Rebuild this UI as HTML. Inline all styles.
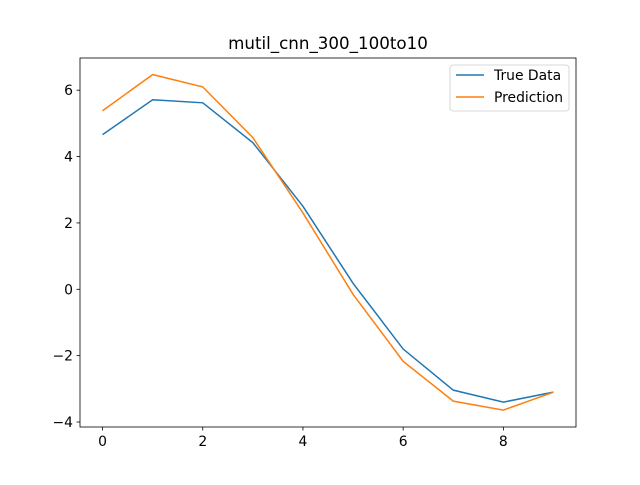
<!DOCTYPE html>
<html><head><meta charset="utf-8">
<style>
body{margin:0;background:#fff;}
svg text{font-family:"DejaVu Sans","Liberation Sans",sans-serif;}
</style></head>
<body>
<svg id="chart" width="640" height="480" xmlns="http://www.w3.org/2000/svg">
<rect width="640" height="480" fill="#fff"/>
<text x="328" y="49" font-size="16.7" text-anchor="middle">mutil_cnn_300_100to10</text>
<g id="ticks"></g>
<g id="lines"></g>
<rect x="80" y="58" width="496" height="369" fill="none" stroke="#000" stroke-width="0.8"/>
<g>
<rect x="450" y="65" width="119" height="46" rx="3" fill="#fff" stroke="#ccc" stroke-width="0.8"/>
<line x1="456" y1="75" x2="484" y2="75" stroke="#1f77b4" stroke-width="1.5"/>
<text x="494" y="80" font-size="13.9">True Data</text>
<line x1="456" y1="97" x2="484" y2="97" stroke="#ff7f0e" stroke-width="1.5"/>
<text x="494" y="102" font-size="13.9">Prediction</text>
</g>
</svg>
<script>
const xValues=[0,1,2,3,4,5,6,7,8,9];
const trueData=[4.66,5.71,5.62,4.42,2.5,0.18,-1.8,-3.04,-3.4,-3.1];
const prediction=[5.38,6.47,6.1,4.57,2.3,-0.15,-2.17,-3.37,-3.64,-3.1];
const xTicks=[0,2,4,6,8];
const yTicks=[-4,-2,0,2,4,6];
const NS="http://www.w3.org/2000/svg";
const xMin=-0.45,xMax=9.45,yMin=-4.15,yMax=6.97;
const L=80,R=576,T=58,B=427;
const sx=v=>L+(v-xMin)/(xMax-xMin)*(R-L);
const sy=v=>B-(v-yMin)/(yMax-yMin)*(B-T);
const tg=document.getElementById('ticks');
xTicks.forEach(t=>{
 const l=document.createElementNS(NS,'line');
 l.setAttribute('x1',sx(t));l.setAttribute('x2',sx(t));l.setAttribute('y1',B);l.setAttribute('y2',B+3.5);
 l.setAttribute('stroke','#000');l.setAttribute('stroke-width','0.8');
 
 
 tg.appendChild(l);
 const tx=document.createElementNS(NS,'text');
 tx.setAttribute('x',sx(t));tx.setAttribute('y',B+19);tx.setAttribute('font-size','13.9');tx.setAttribute('text-anchor','middle');
 tx.textContent=t;
 
 
 tg.appendChild(tx);
});
yTicks.forEach(t=>{
 const l=document.createElementNS(NS,'line');
 l.setAttribute('x1',L-3.5);l.setAttribute('x2',L);l.setAttribute('y1',sy(t));l.setAttribute('y2',sy(t));
 l.setAttribute('stroke','#000');l.setAttribute('stroke-width','0.8');
 
 
 tg.appendChild(l);
 const tx=document.createElementNS(NS,'text');
 tx.setAttribute('x',L-7);tx.setAttribute('y',sy(t)+5);tx.setAttribute('font-size','13.9');tx.setAttribute('text-anchor','end');
 tx.textContent=(t<0?'\u2212'+(-t):t);
 
 
 tg.appendChild(tx);
});
const lg=document.getElementById('lines');
function draw(vals,color,name){
 const p=document.createElementNS(NS,'polyline');
 p.setAttribute('points',vals.map((v,i)=>sx(xValues[i])+','+sy(v)).join(' '));
 p.setAttribute('fill','none');p.setAttribute('stroke',color);p.setAttribute('stroke-width','1.5');
 
 
 lg.appendChild(p);
}
draw(trueData,'#1f77b4','true-data-line');
draw(prediction,'#ff7f0e','prediction-line');
</script>
</body></html>
